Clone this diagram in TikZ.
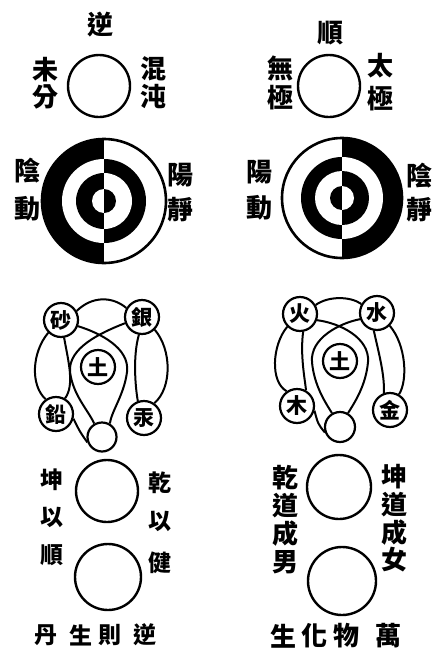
\documentclass[tikz,border=0pt]{standalone}
\usepackage{fontspec}
\newfontfamily\cjk{Noto Sans CJK TC}
\begin{document}
\begin{tikzpicture}[x=1pt,y=-1pt,
  lab/.style={font=\cjk\bfseries\fontsize{26}{26}\selectfont, inner sep=0pt},
  smlab/.style={lab, font=\cjk\bfseries\fontsize{23}{23}\selectfont},
  ring/.style={circle, draw, line width=2.4pt, inner sep=0pt},
  elem/.style={circle, draw, line width=2.2pt, minimum size=34pt, inner sep=0pt,
    font=\cjk\bfseries\fontsize{21}{21}\selectfont},
  link/.style={line width=2pt}]
\useasboundingbox (0,0) rectangle (440,654);
\fill[white] (0,0) rectangle (440,654);

% ---------- texts ----------
\foreach \c/\x/\y [count=\i] in {
  逆/100/25, 順/330/33,
  未/45/70, 分/45/97, 混/153/69, 沌/153/97,
  無/280/68, 極/280/98, 太/380/66, 極/380/99,
  陰/27/171, 動/27/209, 陽/180/175, 靜/180/210,
  陽/259/172, 動/259/208, 陰/419/176, 靜/419/210,
  乾/285/478, 道/285/506, 成/285/534, 男/285/562,
  坤/394/477, 道/394/505, 成/394/533, 女/394/560,
  生/283/636, 化/314/636, 物/346/636, 萬/388/636}
  \node[lab] (t\i) at (\x,\y) {\c};
\foreach \c/\x/\y [count=\i] in {
  坤/52/480, 以/52/517, 順/52/555,
  乾/160/483, 以/160/521, 健/160/563,
  丹/46/635, 生/81/635, 則/110/635, 逆/145/635}
  \node[smlab] (s\i) at (\x,\y) {\c};

% ---------- top circles ----------
\node[ring, minimum size=62pt] (lwuji) at (99,86) {};
\node[ring, minimum size=62pt] (rwuji) at (329,86) {};

% ---------- yin-yang (left) ----------
\begin{scope}
  \clip (30,130) rectangle (104,275);
  \fill[black] (104,201) circle[radius=62];
  \fill[white] (104,201) circle[radius=42];
  \fill[black] (104,201) circle[radius=28];
  \fill[white] (104,201) circle[radius=12];
\end{scope}
\begin{scope}
  \clip (104,130) rectangle (180,275);
  \fill[white] (104,201) circle[radius=62];
  \fill[black] (104,201) circle[radius=42];
  \fill[white] (104,201) circle[radius=28];
  \fill[black] (104,201) circle[radius=12];
\end{scope}
\draw[line width=2.6pt] (104,201) circle[radius=62];

% ---------- yin-yang (right) ----------
\begin{scope}
  \clip (270,130) rectangle (342,270);
  \fill[white] (342,198) circle[radius=60];
  \fill[black] (342,198) circle[radius=41];
  \fill[white] (342,198) circle[radius=27];
  \fill[black] (342,198) circle[radius=12];
\end{scope}
\begin{scope}
  \clip (342,130) rectangle (410,270);
  \fill[black] (342,198) circle[radius=60];
  \fill[white] (342,198) circle[radius=41];
  \fill[black] (342,198) circle[radius=27];
  \fill[white] (342,198) circle[radius=12];
\end{scope}
\draw[line width=2.6pt] (342,198) circle[radius=60];

% ---------- five elements (left) ----------
\node[elem] (lsha)  at (61,320) {砂};
\node[elem] (lyin)  at (142,317) {銀};
\node[elem] (ltu)   at (98,367) {土};
\node[elem] (lqian) at (56,414) {鉛};
\node[elem] (lgong) at (144,418) {汞};
\node[circle, draw, line width=2.2pt, minimum size=29pt] (lbot) at (102,437) {};

\draw[link] (lsha.30) .. controls (92,296) and (112,296) .. (lyin.150);
\draw[link] (lsha.225) .. controls (32,352) and (30,385) .. (lqian.125);
\draw[link] (lyin.-45) .. controls (172,350) and (172,388) .. (lgong.55);
\draw[link] (lsha.-80) .. controls (68,360) and (75,385) .. (lqian.60);
\draw[link] (lyin.-100) .. controls (133,355) and (135,385) .. (lgong.110);
\draw[link] (lsha.-20) .. controls (100,333) and (130,348) .. (127,372)
  .. controls (124,395) and (112,410) .. (lbot.60);
\draw[link] (lyin.-160) .. controls (100,333) and (68,348) .. (70,372)
  .. controls (73,395) and (88,410) .. (lbot.120);
\draw[link] (lqian.-15) .. controls (80,432) .. (lbot.200);

% ---------- five elements (right) ----------
\node[elem] (rhuo)  at (300,314) {火};
\node[elem] (rshui) at (377,313) {水};
\node[elem] (rtu)   at (340,361) {土};
\node[elem] (rmu)   at (297,406) {木};
\node[elem] (rjin)  at (390,410) {金};
\node[circle, draw, line width=2.2pt, minimum size=30pt] (rbot) at (340,427) {};

\draw[link] (rhuo.30) .. controls (328,296) and (350,296) .. (rshui.150);
\draw[link] (rhuo.225) .. controls (272,345) and (270,382) .. (rmu.125);
\draw[link] (rshui.-45) .. controls (406,345) and (408,380) .. (rjin.60);
\draw[link] (rhuo.-80) .. controls (300,355) and (305,380) .. (rmu.60);
\draw[link] (rshui.-100) .. controls (378,350) and (385,375) .. (rjin.110);
\draw[link] (rhuo.-20) .. controls (340,323) and (370,338) .. (368,362)
  .. controls (366,385) and (355,402) .. (rbot.60);
\draw[link] (rshui.-160) .. controls (340,323) and (310,338) .. (312,362)
  .. controls (314,385) and (325,402) .. (rbot.120);
\draw[link] (rmu.-15) .. controls (318,424) .. (rbot.200);

% ---------- bottom circles ----------
\node[ring, minimum size=62pt] (lkun) at (107,491) {};
\node[ring, minimum size=66pt] (lqianb) at (108,577) {};
\node[ring, minimum size=64pt] (rqian) at (339,487) {};
\node[ring, minimum size=68pt] (rkun) at (342,581) {};
\end{tikzpicture}
\end{document}
